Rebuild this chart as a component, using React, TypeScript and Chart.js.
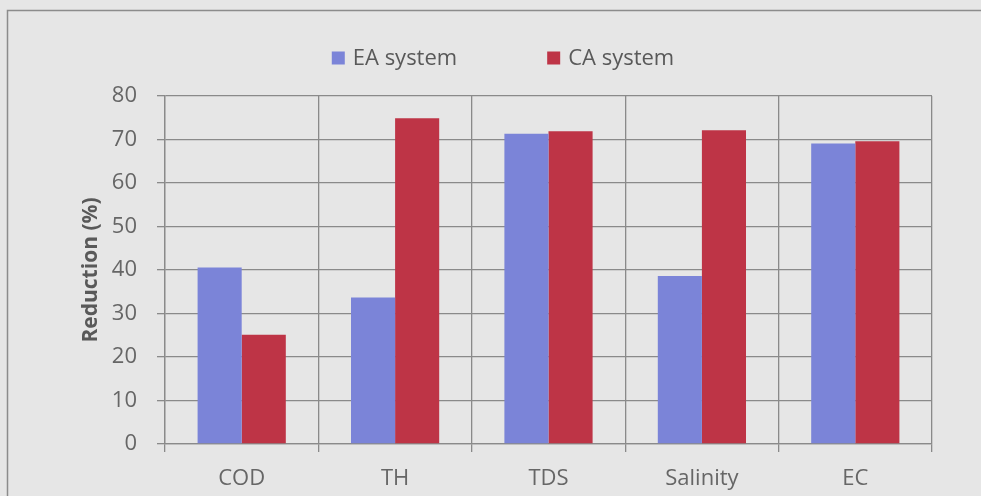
import React, { useEffect, useRef } from "react";
import { Chart, registerables } from "chart.js";

Chart.register(...registerables);

const categories = ["COD", "TH", "TDS", "Salinity", "EC"];
const seriesNames = ["EA system", "CA system"];
const eaValues = [40.6, 33.7, 71.3, 38.6, 69.1];
const caValues = [25.1, 74.9, 71.9, 72.1, 69.6];
const yTicks = [0, 10, 20, 30, 40, 50, 60, 70, 80];
const yTitle = "Reduction (%)";

const FONT = "'Open Sans', 'DejaVu Sans', sans-serif";
const BLUE = "#7b84d8";
const RED = "#be3446";
const GRID = "#8a8a8a";

// Page background, frame line and a horizontal legend centred above the plot
const decorPlugin = {
  id: "decor",
  beforeDraw(chart: Chart) {
    const { ctx, width, height } = chart;
    ctx.save();
    ctx.fillStyle = "#e6e6e6";
    ctx.fillRect(0, 0, width, height);
    ctx.strokeStyle = "#8c8c8c";
    ctx.lineWidth = 1.5;
    ctx.strokeRect(7.5, 10.5, width + 100, height + 100);
    ctx.restore();
  },
  afterDraw(chart: Chart) {
    const { ctx } = chart;
    ctx.save();
    ctx.font = `22px ${FONT}`;
    ctx.textBaseline = "middle";
    const box = 13;
    const gapBoxText = 8;
    const gapItems = 90;
    const items = chart.data.datasets.map((ds) => ({
      label: String(ds.label),
      color: String(ds.backgroundColor),
      w: ctx.measureText(String(ds.label)).width,
    }));
    const total =
      items.reduce((s, it) => s + box + gapBoxText + it.w, 0) +
      gapItems * (items.length - 1);
    let x = 503 - total / 2;
    const cy = 58;
    items.forEach((it) => {
      ctx.fillStyle = it.color;
      ctx.fillRect(x, cy - box / 2, box, box);
      x += box + gapBoxText;
      ctx.fillStyle = "#595959";
      ctx.fillText(it.label, x, cy + 1);
      x += it.w + gapItems;
    });
    ctx.restore();
  },
};

export default function App() {
  const canvasRef = useRef<HTMLCanvasElement | null>(null);

  useEffect(() => {
    if (!canvasRef.current) return;
    const chart = new Chart(canvasRef.current, {
      type: "bar",
      data: {
        labels: categories,
        datasets: [
          {
            label: seriesNames[0],
            data: eaValues,
            backgroundColor: BLUE,
            categoryPercentage: 0.575,
            barPercentage: 1,
          },
          {
            label: seriesNames[1],
            data: caValues,
            backgroundColor: RED,
            categoryPercentage: 0.575,
            barPercentage: 1,
          },
        ],
      },
      options: {
        responsive: false,
        animation: false,
        layout: { padding: { top: 96, right: 49, bottom: 0, left: 0 } },
        plugins: {
          legend: { display: false },
          tooltip: { enabled: false },
        },
        scales: {
          x: {
            grid: {
              offset: true,
              color: GRID,
              lineWidth: 1.3,
              tickLength: 8,
            },
            border: { color: GRID, width: 1.3 },
            ticks: {
              color: "#666666",
              font: { family: FONT, size: 22 },
              padding: 14,
            },
            afterFit(scale: any) {
              scale.height = 52;
            },
          },
          y: {
            min: 0,
            max: 80,
            afterBuildTicks(scale: any) {
              scale.ticks = yTicks.map((v) => ({ value: v }));
            },
            grid: { color: GRID, lineWidth: 1.3, tickLength: 8 },
            border: { color: GRID, width: 1.3 },
            ticks: {
              color: "#666666",
              font: { family: FONT, size: 22 },
              padding: 20,
            },
            title: {
              display: true,
              text: yTitle,
              color: "#595959",
              font: { family: FONT, size: 21, weight: "bold" },
              padding: { top: 78, bottom: 0 },
            },
            afterFit(scale: any) {
              scale.width = 165;
            },
          },
        },
      },
      plugins: [decorPlugin],
    });
    return () => chart.destroy();
  }, []);

  return (
    <div style={{ position: "fixed", left: 0, top: 0, width: 981, height: 496 }}>
      <canvas ref={canvasRef} width={981} height={496} />
    </div>
  );
}
